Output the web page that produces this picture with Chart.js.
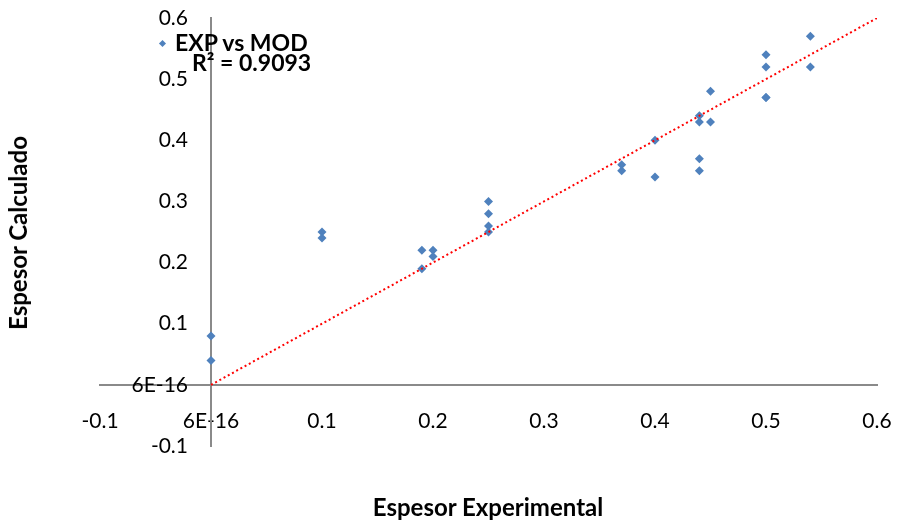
<!DOCTYPE html>
<html>
<head>
<meta charset="utf-8">
<script src="https://cdn.jsdelivr.net/npm/chart.js@4.4.0/dist/chart.umd.min.js"></script>
<style>
  body { margin: 0; background: #fff; }
  #wrap { position: relative; width: 898px; height: 522px; font-family: Lato, "Open Sans", sans-serif; }
  .lbl { position: absolute; font-weight: bold; color: #000; white-space: nowrap; line-height: 1; }
  #ytitle { left: 18px; top: 233px; font-size: 24px; transform: translate(-50%, -50%) rotate(-90deg); }
  #xtitle { left: 488px; top: 507px; font-size: 24px; transform: translate(-50%, -50%); }
  #leg { left: 158px; top: 31px; font-size: 23px; }
  #leg i { display: inline-block; width: 5px; height: 5px; background: #4F81BD; transform: rotate(45deg); margin: 0 10px 4px 2px; vertical-align: middle; }
  #r2 { left: 192px; top: 51px; font-size: 23px; }
</style>
</head>
<body>
<div id="wrap">
  <canvas id="chart" width="898" height="522"></canvas>
  <div class="lbl" id="ytitle">Espesor Calculado</div>
  <div class="lbl" id="xtitle">Espesor Experimental</div>
  <div class="lbl" id="leg"><i></i>EXP vs MOD</div>
  <div class="lbl" id="r2">R² = 0.9093</div>
</div>
<script>
// experimental vs model thickness
var expX = [0, 0, 0.1, 0.1, 0.19, 0.19, 0.2, 0.2, 0.25, 0.25, 0.25, 0.25,
            0.37, 0.37, 0.4, 0.4, 0.44, 0.44, 0.44, 0.44, 0.45, 0.45,
            0.5, 0.5, 0.5, 0.5, 0.54, 0.54];
var modY = [0.08, 0.04, 0.25, 0.24, 0.22, 0.19, 0.22, 0.21, 0.3, 0.28, 0.26, 0.25,
            0.36, 0.35, 0.4, 0.34, 0.44, 0.43, 0.37, 0.35, 0.48, 0.43,
            0.54, 0.52, 0.47, 0.47, 0.57, 0.52];
// linear trend line (through origin)
var trendX = [0, 0.6];
var trendY = [0, 0.6];
var tickVals = [-0.1, 0, 0.1, 0.2, 0.3, 0.4, 0.5, 0.6];
var tickLabels = ['-0.1', '6E-16', '0.1', '0.2', '0.3', '0.4', '0.5', '0.6'];

var pts = expX.map((x, i) => ({ x: x, y: modY[i] }));
var trend = trendX.map((x, i) => ({ x: x, y: trendY[i] }));

function setTicks(scale) {
    scale.ticks = tickVals.map(v => ({ value: v }));
}
function fmt(v) {
    var i = tickVals.findIndex(t => Math.abs(t - v) < 1e-9);
    return i >= 0 ? tickLabels[i] : '';
}

// axes sit at 0, so push the tick labels away from the axis lines like excel does
var labelGap = {
    id: 'labelGap',
    beforeDraw(chart) {
        var shift = { x: [0, 24], y: [-23, 0] };
        Object.keys(shift).forEach(id => {
            var sc = chart.scales[id];
            var items = sc.getLabelItems(chart.chartArea);
            if (items._moved) return;
            items.forEach(it => {
                it.options.translation[0] += shift[id][0];
                it.options.translation[1] += shift[id][1];
            });
            items._moved = true;
        });
    }
};

var tickFont = { family: 'Lato', size: 21 };
var ctx = document.getElementById('chart').getContext('2d');
var chart = new Chart(ctx, {
    type: 'scatter',
    data: {
        datasets: [{
            label: 'EXP vs MOD',
            data: pts,
            pointStyle: 'rectRot',
            pointRadius: 4.5,
            backgroundColor: '#4F81BD',
            borderColor: '#4F81BD',
            borderWidth: 0,
            order: 2
        }, {
            type: 'line',
            label: 'trend',
            data: trend,
            borderColor: '#FF0000',
            borderWidth: 2,
            borderDash: [2, 2.8],
            pointRadius: 0,
            fill: false,
            order: 1
        }]
    },
    options: {
        responsive: false,
        animation: false,
        devicePixelRatio: 1,
        layout: { padding: { left: 100, right: 21, top: 18, bottom: 76 } },
        plugins: { legend: { display: false }, tooltip: { enabled: false } },
        scales: {
            x: {
                type: 'linear',
                min: -0.1, max: 0.6,
                position: { y: 0 },
                afterBuildTicks: setTicks,
                grid: { display: false, drawTicks: false },
                border: { display: true, color: '#8a8a8a', width: 2 },
                ticks: { color: '#000', font: tickFont, padding: 0, maxRotation: 0, autoSkip: false, callback: fmt }
            },
            y: {
                type: 'linear',
                min: -0.1, max: 0.6,
                position: { x: 0 },
                afterBuildTicks: setTicks,
                grid: { display: false, drawTicks: false },
                border: { display: true, color: '#8a8a8a', width: 2 },
                ticks: { color: '#000', font: tickFont, padding: 0, autoSkip: false, callback: fmt }
            }
        }
    },
    plugins: [labelGap]
});
</script>
</body>
</html>
